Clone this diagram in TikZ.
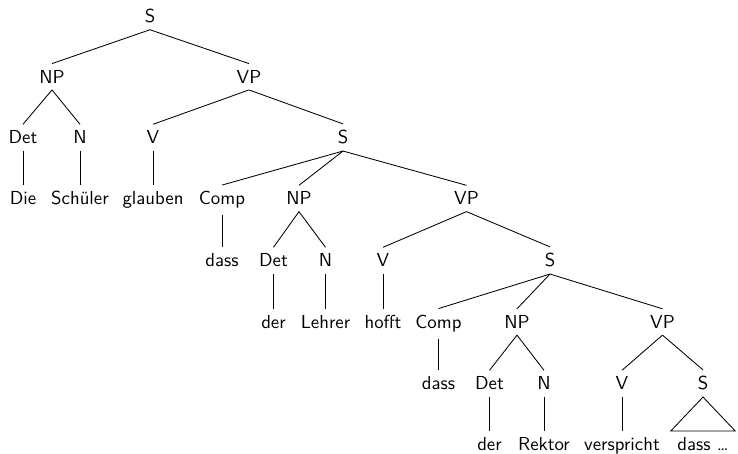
\documentclass[tikz,border=0pt]{standalone}
\begin{document}
\begin{tikzpicture}[x=0.532pt,y=-0.532pt,
  tn/.style={anchor=base,font=\sffamily\fontsize{10}{12}\selectfont},
  edge/.style={draw,line width=0.45pt}]
\useasboundingbox (0,0) rectangle (738,454);
\def\ra{22.7}\def\rb{83.3}\def\rc{144}\def\rd{205}\def\re{267}\def\rf{328.5}\def\rg{390}\def\rh{450.7}
% row 0
\node[tn] (S1) at (150,\ra) {S};
% row 1
\node[tn] (NP1) at (52,\rb) {NP};
\node[tn] (VP1) at (249,\rb) {VP};
% row 2
\node[tn] (Det1) at (23,\rc) {Det};
\node[tn] (N1) at (80,\rc) {N};
\node[tn] (V1) at (153,\rc) {V};
\node[tn] (S2) at (343,\rc) {S};
% row 3
\node[tn] (die) at (23,\rd) {Die};
\node[tn] (schueler) at (80,\rd) {Schüler};
\node[tn] (glauben) at (153,\rd) {glauben};
\node[tn] (Comp1) at (222,\rd) {Comp};
\node[tn] (NP2) at (299,\rd) {NP};
\node[tn] (VP2) at (466.5,\rd) {VP};
% row 4
\node[tn] (dass1) at (222,\re) {dass};
\node[tn] (Det2) at (273.5,\re) {Det};
\node[tn] (N2) at (325.5,\re) {N};
\node[tn] (V2) at (383,\re) {V};
\node[tn] (S3) at (550,\re) {S};
% row 5
\node[tn] (der1) at (273.5,\rf) {der};
\node[tn] (lehrer) at (325.5,\rf) {Lehrer};
\node[tn] (hofft) at (383,\rf) {hofft};
\node[tn] (Comp2) at (438.5,\rf) {Comp};
\node[tn] (NP3) at (517,\rf) {NP};
\node[tn] (VP3) at (662.5,\rf) {VP};
% row 6
\node[tn] (dass2) at (438.5,\rg) {dass};
\node[tn] (Det3) at (489.5,\rg) {Det};
\node[tn] (N3) at (544,\rg) {N};
\node[tn] (V3) at (622,\rg) {V};
\node[tn] (S4) at (703,\rg) {S};
% row 7
\node[tn] (der2) at (489.5,\rh) {der};
\node[tn] (rektor) at (544,\rh) {Rektor};
\node[tn] (verspricht) at (622,\rh) {verspricht};
\node[tn] (dassx) at (703,\rh) {dass \ldots};
% edges
\foreach \p/\c in {S1/NP1,S1/VP1,NP1/Det1,NP1/N1,VP1/V1,VP1/S2,Det1/die,N1/schueler,V1/glauben,
  S2/Comp1,S2/NP2,S2/VP2,Comp1/dass1,NP2/Det2,NP2/N2,VP2/V2,VP2/S3,Det2/der1,N2/lehrer,V2/hofft,
  S3/Comp2,S3/NP3,S3/VP3,Comp2/dass2,NP3/Det3,NP3/N3,VP3/V3,VP3/S4,Det3/der2,N3/rektor,V3/verspricht}
  \path[edge] (\p.south) -- (\c.north);
\path[edge] (S4.south) -- (dassx.north west) -- (dassx.north east) -- cycle;
\end{tikzpicture}
\end{document}
